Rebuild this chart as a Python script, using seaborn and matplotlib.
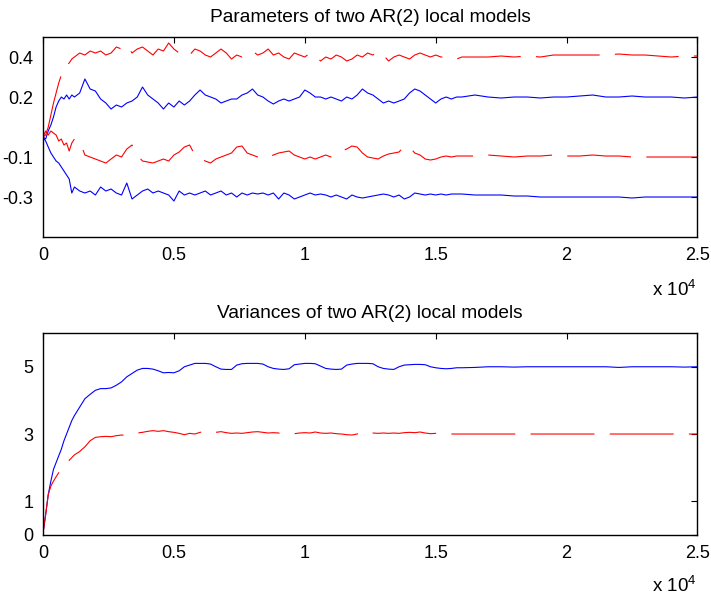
import numpy as np
import seaborn as sns
import matplotlib
matplotlib.use("Agg")
import matplotlib.pyplot as plt

# sample index (iterations) at which the estimates were read off
iters = np.r_[0:1300:100, 1400:16001:200, 16500:25001:500]

# top panel: AR(2) coefficients of the two local models
ar_red_a1 = (
    [0.00, 0.01, 0.05, 0.11, 0.17, 0.22, 0.27, 0.31, 0.35, 0.36, 0.37, 0.39, 0.40]
    + [0.42, 0.41, 0.43, 0.42, 0.43, 0.41, 0.42, 0.45, 0.44, 0.46,
       0.42, 0.44, 0.45, 0.43, 0.41, 0.44, 0.43, 0.47, 0.44, 0.42,
       0.43, 0.41, 0.44, 0.43, 0.41, 0.40, 0.42, 0.44, 0.42, 0.39,
       0.41, 0.40, 0.42, 0.43, 0.41, 0.42, 0.44, 0.41, 0.42, 0.40,
       0.39, 0.42, 0.41, 0.40, 0.42, 0.41, 0.38, 0.40, 0.39, 0.41,
       0.40, 0.38, 0.39, 0.41, 0.40, 0.42, 0.41, 0.43, 0.41, 0.38,
       0.40, 0.41, 0.40, 0.39, 0.41, 0.42, 0.41, 0.40, 0.41, 0.40,
       0.40, 0.39, 0.39, 0.40]
    + [0.40, 0.40, 0.405, 0.40, 0.405, 0.40, 0.41, 0.41, 0.41, 0.41,
       0.41, 0.415, 0.41, 0.41, 0.405, 0.40, 0.405, 0.405]
)
ar_blue_a1 = (
    [0.00, -0.01, 0.03, 0.06, 0.10, 0.15, 0.18, 0.20, 0.19, 0.21, 0.19, 0.21, 0.20]
    + [0.22, 0.29, 0.24, 0.23, 0.19, 0.17, 0.14, 0.16, 0.15, 0.17,
       0.18, 0.20, 0.25, 0.21, 0.19, 0.17, 0.14, 0.17, 0.15, 0.18,
       0.16, 0.18, 0.21, 0.235, 0.21, 0.20, 0.19, 0.17, 0.18, 0.19,
       0.19, 0.21, 0.22, 0.24, 0.21, 0.20, 0.18, 0.165, 0.18, 0.19,
       0.18, 0.19, 0.20, 0.235, 0.22, 0.20, 0.20, 0.19, 0.20, 0.19,
       0.18, 0.20, 0.19, 0.21, 0.24, 0.22, 0.21, 0.19, 0.17, 0.18,
       0.17, 0.18, 0.19, 0.22, 0.24, 0.23, 0.21, 0.19, 0.17, 0.19,
       0.20, 0.19, 0.20, 0.20]
    + [0.21, 0.20, 0.195, 0.20, 0.20, 0.195, 0.20, 0.20, 0.205, 0.21,
       0.20, 0.20, 0.205, 0.20, 0.20, 0.20, 0.195, 0.20]
)
ar_red_a2 = (
    [0.00, 0.03, 0.01, 0.03, 0.02, 0.01, -0.02, -0.01, -0.04, -0.03, -0.07, -0.03, -0.01]
    + [-0.02, -0.09, -0.10, -0.11, -0.12, -0.13, -0.11, -0.09, -0.10, -0.06,
       -0.04, -0.09, -0.12, -0.125, -0.13, -0.12, -0.11, -0.12, -0.09, -0.075,
       -0.05, -0.04, -0.09, -0.11, -0.12, -0.13, -0.11, -0.10, -0.09, -0.08,
       -0.05, -0.045, -0.08, -0.09, -0.10, -0.11, -0.10, -0.09, -0.08, -0.075,
       -0.07, -0.09, -0.10, -0.11, -0.10, -0.11, -0.10, -0.09, -0.10, -0.08,
       -0.07, -0.06, -0.045, -0.05, -0.08, -0.10, -0.105, -0.11, -0.095, -0.085,
       -0.08, -0.075, -0.045, -0.05, -0.08, -0.09, -0.11, -0.115, -0.11, -0.10,
       -0.095, -0.10, -0.095, -0.095]
    + [-0.095, -0.09, -0.095, -0.10, -0.095, -0.095, -0.09, -0.095, -0.095, -0.09,
       -0.095, -0.095, -0.10, -0.10, -0.10, -0.10, -0.10, -0.10]
)
ar_blue_a2 = (
    [0.00, -0.02, -0.05, -0.08, -0.10, -0.12, -0.13, -0.15, -0.17, -0.19, -0.21, -0.28, -0.25]
    + [-0.27, -0.28, -0.27, -0.29, -0.25, -0.27, -0.26, -0.28, -0.29, -0.23,
       -0.31, -0.29, -0.27, -0.26, -0.28, -0.27, -0.28, -0.29, -0.32, -0.27,
       -0.29, -0.28, -0.29, -0.28, -0.27, -0.29, -0.28, -0.27, -0.29, -0.28,
       -0.30, -0.28, -0.29, -0.28, -0.285, -0.28, -0.29, -0.28, -0.31, -0.28,
       -0.29, -0.31, -0.30, -0.29, -0.28, -0.29, -0.285, -0.29, -0.30, -0.29,
       -0.30, -0.31, -0.29, -0.30, -0.305, -0.30, -0.295, -0.29, -0.285, -0.29,
       -0.30, -0.29, -0.31, -0.30, -0.28, -0.285, -0.29, -0.285, -0.29, -0.285,
       -0.29, -0.285, -0.285, -0.285]
    + [-0.29, -0.29, -0.29, -0.295, -0.295, -0.30, -0.30, -0.30, -0.30, -0.30,
       -0.30, -0.30, -0.305, -0.30, -0.30, -0.30, -0.30, -0.30]
)

# bottom panel: noise variances of the two local models
var_blue = (
    [0.05, 0.6, 1.2, 1.6, 1.95, 2.15, 2.35, 2.55, 2.8, 3.0, 3.2, 3.4, 3.55]
    + [3.8, 4.05, 4.18, 4.3, 4.35, 4.35, 4.37, 4.45, 4.55, 4.7,
       4.8, 4.9, 4.95, 4.95, 4.93, 4.88, 4.82, 4.83, 4.82, 4.88,
       5.0, 5.05, 5.1, 5.1, 5.1, 5.08, 5.0, 4.93, 4.92, 4.92,
       5.05, 5.09, 5.1, 5.1, 5.1, 5.08, 5.0, 4.95, 4.93, 4.92,
       4.94, 5.06, 5.08, 5.1, 5.1, 5.09, 5.02, 4.95, 4.93, 4.92,
       4.93, 5.05, 5.08, 5.1, 5.1, 5.1, 5.09, 5.0, 4.95, 4.93,
       4.92, 5.0, 5.05, 5.06, 5.07, 5.07, 5.06, 5.0, 4.97, 4.95,
       4.94, 4.95, 4.97, 4.97]
    + [4.98, 5.0, 5.0, 4.99, 5.0, 5.0, 5.0, 5.0, 5.0, 5.0,
       5.0, 4.98, 5.0, 5.0, 5.0, 5.0, 4.99, 5.0]
)
var_red = (
    [0.05, 0.6, 1.2, 1.45, 1.6, 1.73, 1.85, 1.97, 2.05, 2.13, 2.22, 2.3, 2.38]
    + [2.48, 2.62, 2.8, 2.9, 2.92, 2.93, 2.92, 2.95, 2.97, 2.96,
       2.98, 3.03, 3.05, 3.08, 3.1, 3.08, 3.1, 3.07, 3.05, 3.02,
       2.98, 3.02, 3.0, 3.05, 3.08, 3.1, 3.05, 3.07, 3.04, 3.02,
       3.03, 3.02, 3.04, 3.06, 3.07, 3.05, 3.03, 3.04, 3.03, 3.0,
       3.02, 3.01, 3.03, 3.04, 3.03, 3.06, 3.03, 3.02, 3.03, 3.01,
       3.0, 2.98, 2.97, 3.0, 3.08, 3.05, 3.03, 3.02, 3.03, 3.02,
       3.03, 3.02, 3.04, 3.05, 3.04, 3.06, 3.03, 3.01, 3.02, 3.01,
       3.0, 3.0, 3.0, 3.0]
    + [3.0] * 18
)

xticks = [0, 5000, 10000, 15000, 20000, 25000]
xticklabels = ["0", "0.5", "1", "1.5", "2", "2.5"]

sns.set_theme(style="white")
plt.rcParams["font.family"] = ["Liberation Sans", "DejaVu Sans"]
plt.rcParams["mathtext.fontset"] = "custom"
plt.rcParams["mathtext.rm"] = "Liberation Sans"
plt.rcParams["lines.scale_dashes"] = False
for key in ["text.color", "axes.labelcolor", "xtick.color", "ytick.color"]:
    plt.rcParams[key] = "black"

dash = (0, (46, 11))
fig = plt.figure(figsize=(7.11, 5.97), dpi=100)
ax1 = fig.add_axes([0.0605, 0.603, 0.9205, 0.335])
ax2 = fig.add_axes([0.0605, 0.104, 0.9205, 0.338])

sns.lineplot(x=iters, y=ar_blue_a1, color="#0000ff", lw=0.8, ax=ax1)
sns.lineplot(x=iters, y=ar_blue_a2, color="#0000ff", lw=0.8, ax=ax1)
sns.lineplot(x=iters, y=ar_red_a1, color="#ff0000", lw=0.8, ls=dash, ax=ax1)
sns.lineplot(x=iters, y=ar_red_a2, color="#ff0000", lw=0.8, ls=dash, ax=ax1)

sns.lineplot(x=iters, y=var_blue, color="#0000ff", lw=0.8, ax=ax2)
sns.lineplot(x=iters, y=var_red, color="#ff0000", lw=0.8, ls=dash, ax=ax2)

ax1.set_ylim(-0.5, 0.5)
ax1.set_yticks([-0.3, -0.1, 0.2, 0.4])
ax1.set_yticklabels(["-0.3", "-0.1", "0.2", "0.4"])
ax2.set_ylim(0, 6)
ax2.set_yticks([0, 1, 3, 5])
ax2.set_yticklabels(["0", "1", "3", "5"])

titles = ["Parameters of two AR(2) local models", "Variances of two AR(2) local models"]
for ax, title in zip([ax1, ax2], titles):
    ax.set_xlim(0, 25000)
    ax.set_xticks(xticks)
    ax.set_xticklabels(xticklabels)
    ax.set_title(title, fontsize=13.8, pad=11, color="black")
    ax.tick_params(direction="in", top=True, right=True, length=4, width=0.8,
                   labelsize=13, pad=7)
    for sp in ax.spines.values():
        sp.set_color("black")
        sp.set_linewidth(1.0)
    ax.set_xlabel("")
    ax.set_ylabel("")

fig.text(697 / 711, 1 - 290 / 597, r"x 10$^{4}$", ha="right", va="center", fontsize=13.5)
fig.text(697 / 711, 1 - 586 / 597, r"x 10$^{4}$", ha="right", va="center", fontsize=13.5)

fig.savefig("out.png", dpi=100)
